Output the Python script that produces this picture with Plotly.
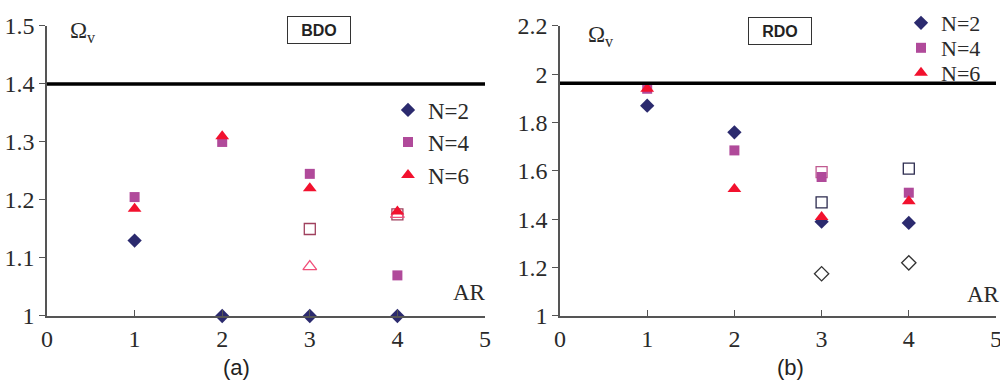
import plotly.graph_objects as go

# ---------------- data ----------------
ar = [1, 2, 3, 4]
x_ticks = [0, 1, 2, 3, 4, 5]

# (a) BDO
bdo_n2 = [1.13, 1.0, 1.0, 1.0]
bdo_n4 = [1.205, 1.30, 1.245, 1.07]
bdo_n6 = [1.185, 1.31, 1.22, 1.18]
bdo_open_sq_x = [3, 4]
bdo_open_sq_y = [1.15, 1.175]
bdo_open_tri_x = [3, 4]
bdo_open_tri_y = [1.085, 1.175]
bdo_limit = 1.4
bdo_yticks = [1.0, 1.1, 1.2, 1.3, 1.4, 1.5]
bdo_yticklabels = ["1", "1.1", "1.2", "1.3", "1.4", "1.5"]

# (b) RDO
rdo_n2 = [1.87, 1.76, 1.39, 1.385]
rdo_n4 = [1.94, 1.685, 1.575, 1.51]
rdo_n6 = [1.94, 1.525, 1.41, 1.475]
rdo_open_sq_x = [3, 4]
rdo_open_sq_y = [1.47, 1.61]
rdo_open_pink_sq_x = [3]
rdo_open_pink_sq_y = [1.595]
rdo_open_dia_x = [3, 4]
rdo_open_dia_y = [1.175, 1.22]
rdo_limit = 1.963
rdo_yticks = [1.0, 1.2, 1.4, 1.6, 1.8, 2.0, 2.2]
rdo_yticklabels = ["1", "1.2", "1.4", "1.6", "1.8", "2", "2.2"]

series_names = ["N=2", "N=4", "N=6"]

# ---------------- styles ----------------
NAVY = "#2b2a6e"
PURPLE = "#b04a9a"
RED = "#f2112e"
PINK = "#f0507a"
SERIF = "Liberation Serif, Times New Roman, serif"
SANS = "Liberation Sans, Arial, sans-serif"
TXT = "#2a2a2a"
H = 381

fig = go.Figure()

def add_series(xa, ya, ys, legends):
    specs = [
        (series_names[0], ys[0], "diamond", NAVY, 11),
        (series_names[1], ys[1], "square", PURPLE, 10),
        (series_names[2], ys[2], "triangle-up", RED, 12),
    ]
    for (name, y, sym, col, size), lg in zip(specs, legends):
        fig.add_trace(go.Scatter(
            x=ar, y=y, mode="markers", name=name, xaxis=xa, yaxis=ya,
            legend=lg,
            marker=dict(symbol=sym, color=col, size=size, line=dict(width=0)),
            cliponaxis=False,
        ))

def add_open(xa, ya, x, y, sym, col, size):
    fig.add_trace(go.Scatter(
        x=x, y=y, mode="markers", xaxis=xa, yaxis=ya, showlegend=False,
        marker=dict(symbol=sym + "-open", color=col, size=size, line=dict(width=1.3)),
        cliponaxis=False,
    ))

# open markers first (drawn beneath filled)
add_open("x", "y", bdo_open_sq_x, bdo_open_sq_y, "square", "#a0405e", 11)
add_open("x", "y", bdo_open_tri_x, bdo_open_tri_y, "triangle-up", PINK, 12)
add_open("x2", "y2", rdo_open_pink_sq_x, rdo_open_pink_sq_y, "square", "#c05a90", 11)
add_open("x2", "y2", rdo_open_sq_x, rdo_open_sq_y, "square", "#2b2a4e", 11)
add_open("x2", "y2", rdo_open_dia_x, rdo_open_dia_y, "diamond", "#333333", 11)

add_series("x", "y", [bdo_n2, bdo_n4, bdo_n6], ["legend", "legend2", "legend3"])
add_series("x2", "y2", [rdo_n2, rdo_n4, rdo_n6], ["legend4", "legend5", "legend6"])

# limit lines
fig.add_shape(type="line", xref="x", yref="y", x0=0, x1=5, y0=bdo_limit, y1=bdo_limit,
              line=dict(color="black", width=3.5))
fig.add_shape(type="line", xref="x2", yref="y2", x0=0, x1=5.05, y0=rdo_limit, y1=rdo_limit,
              line=dict(color="black", width=3.5))

ydom = [0.1706, 0.932]
axis_common = dict(
    showgrid=False, zeroline=False, showline=True, linecolor="#555555", linewidth=1.5,
    tickfont=dict(family=SERIF, size=24, color=TXT),
    tickcolor="#555555", ticklen=6, tickwidth=1.3, automargin=False,
)

def leg(x, ypix, size):
    return dict(x=x, y=1 - ypix / H, xanchor="left", yanchor="middle",
                font=dict(family=SERIF, size=size, color=TXT),
                bgcolor="rgba(0,0,0,0)", itemwidth=30)

fig.update_layout(
    width=1000, height=H,
    margin=dict(l=0, r=0, t=0, b=0, autoexpand=False),
    paper_bgcolor="white", plot_bgcolor="white",
    xaxis=dict(domain=[0.047, 0.485], range=[0, 5], tickvals=x_ticks, ticks="inside",
               anchor="y", ticklabeloverflow="allow", **axis_common),
    yaxis=dict(domain=ydom, range=[1.0, 1.5], tickvals=bdo_yticks, ticktext=bdo_yticklabels,
               ticks="outside", anchor="x", **axis_common),
    xaxis2=dict(domain=[0.560, 0.996], range=[0, 5], tickvals=x_ticks, ticks="inside",
                anchor="y2", ticklabeloverflow="allow", **axis_common),
    yaxis2=dict(domain=ydom, range=[1.0, 2.2], tickvals=rdo_yticks, ticktext=rdo_yticklabels,
                ticks="outside", anchor="x2", **axis_common),
    showlegend=True,
    legend=leg(0.388, 110, 23),
    legend2=leg(0.388, 142, 23),
    legend3=leg(0.388, 175, 23),
    legend4=leg(0.901, 23, 22),
    legend5=leg(0.901, 48, 22),
    legend6=leg(0.901, 73, 22),
)

ann = []
# titles in boxes
ann.append(dict(text="<b>BDO</b>", x=3.1, y=1.493, xref="x", yref="y", showarrow=False,
                font=dict(family=SANS, size=16, color="#222"), bordercolor="#333",
                borderwidth=1, borderpad=3, width=56, height=20,
                xanchor="center", yanchor="middle"))
ann.append(dict(text="<b>RDO</b>", x=2.52, y=2.179, xref="x2", yref="y2", showarrow=False,
                font=dict(family=SANS, size=16, color="#222"), bordercolor="#333",
                borderwidth=1, borderpad=3, width=56, height=20,
                xanchor="center", yanchor="middle"))
# Omega labels
ann.append(dict(text="Ω<sub>v</sub>", x=0.24, y=1.49, xref="x", yref="y", showarrow=False,
                font=dict(family=SERIF, size=23, color=TXT), xanchor="left", yanchor="middle"))
ann.append(dict(text="Ω<sub>v</sub>", x=0.3, y=2.16, xref="x2", yref="y2", showarrow=False,
                font=dict(family=SERIF, size=23, color=TXT), xanchor="left", yanchor="middle"))
# AR labels
ann.append(dict(text="AR", x=5.0, y=1.015, xref="x", yref="y", showarrow=False, xshift=3,
                font=dict(family=SERIF, size=23, color=TXT), xanchor="right", yanchor="bottom"))
ann.append(dict(text="AR", x=5.0, y=1.03, xref="x2", yref="y2", showarrow=False, xshift=6,
                font=dict(family=SERIF, size=23, color=TXT), xanchor="right", yanchor="bottom"))
# panel labels
ann.append(dict(text="(a)", x=0.236, y=(H - 367) / H, xref="paper", yref="paper",
                showarrow=False, font=dict(family=SANS, size=22, color="#222"),
                xanchor="center", yanchor="middle"))
ann.append(dict(text="(b)", x=0.790, y=(H - 367) / H, xref="paper", yref="paper",
                showarrow=False, font=dict(family=SANS, size=22, color="#222"),
                xanchor="center", yanchor="middle"))
fig.update_layout(annotations=ann)

fig.write_html("out.html", config={"displayModeBar": False},
               post_script="document.body.style.margin='0';")
